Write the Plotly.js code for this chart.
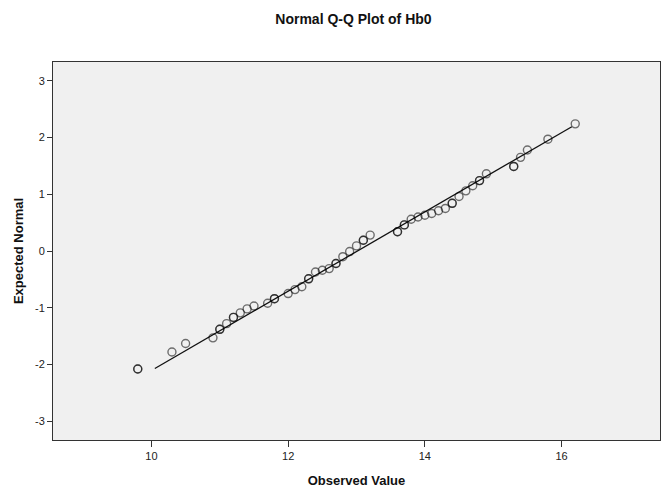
<!DOCTYPE html>
<html>
<head>
<meta charset="utf-8">
<script src="https://cdn.plot.ly/plotly-3.0.1.min.js"></script>
<style>html,body{margin:0;padding:0;background:#fff;}#chart{width:667px;height:490px;}</style>
</head>
<body>
<div id="chart"></div>
<script>
// Observed values (ties repeated) and expected normal values
const observed = [9.8, 9.8, 10.3, 10.5, 10.9, 11.0, 11.0, 11.1, 11.2, 11.2, 11.3, 11.4, 11.5, 11.7, 11.8, 11.8,
  12.0, 12.1, 12.2, 12.3, 12.3, 12.4, 12.5, 12.6, 12.7, 12.7, 12.8, 12.9, 13.0, 13.1, 13.1, 13.2,
  13.6, 13.6, 13.7, 13.7, 13.8, 13.9, 14.0, 14.1, 14.2, 14.3, 14.4, 14.4, 14.5, 14.6, 14.7, 14.8, 14.8,
  14.9, 15.3, 15.3, 15.4, 15.5, 15.8, 16.2];
const expected = [-2.08, -2.08, -1.78, -1.63, -1.53, -1.38, -1.38, -1.28, -1.17, -1.17, -1.09, -1.02, -0.97, -0.92, -0.84, -0.84,
  -0.75, -0.68, -0.63, -0.49, -0.49, -0.37, -0.34, -0.31, -0.22, -0.22, -0.10, -0.01, 0.09, 0.19, 0.19, 0.28,
  0.34, 0.34, 0.46, 0.46, 0.56, 0.60, 0.63, 0.66, 0.71, 0.75, 0.84, 0.84, 0.96, 1.06, 1.15, 1.24, 1.24,
  1.36, 1.49, 1.49, 1.65, 1.78, 1.97, 2.24];
// Reference line end points
const lineX = [10.05, 16.15];
const lineY = [-2.07, 2.19];
const xTicks = [10, 12, 14, 16];
const yTicks = [-3, -2, -1, 0, 1, 2, 3];

const font = "'Liberation Sans', Arial, sans-serif";
const traces = [
  {x: lineX, y: lineY, mode: 'lines', type: 'scatter', line: {color: '#111', width: 1.3}, hoverinfo: 'skip'},
  {x: observed, y: expected, mode: 'markers', type: 'scatter',
   marker: {symbol: 'circle-open', size: 8, color: 'rgba(0,0,0,0.55)', line: {width: 1.4, color: 'rgba(0,0,0,0.55)'}}}
];
const layout = {
  width: 667, height: 490,
  margin: {l: 53, r: 7, t: 62, b: 50},
  paper_bgcolor: '#ffffff', plot_bgcolor: '#f0f0f0',
  showlegend: false,
  font: {family: font, color: '#222', size: 11},
  title: {text: 'Normal Q-Q Plot of Hb0', font: {family: font, size: 14, color: '#111', weight: 'bold'}, x: 0.495, xref: 'paper', y: 0.962, yref: 'container', yanchor: 'middle'},
  xaxis: {range: [8.56, 17.44], tickvals: xTicks, ticktext: xTicks.map(String), ticks: 'outside', ticklen: 6, tickwidth: 1, tickcolor: '#333',
    showgrid: false, zeroline: false, showline: true, linecolor: '#333', linewidth: 1, mirror: true,
    tickfont: {size: 11, color: '#222'},
    title: {text: 'Observed Value', font: {family: font, size: 13, color: '#111', weight: 'bold'}, standoff: 14}},
  yaxis: {range: [-3.33, 3.33], tickvals: yTicks, ticktext: yTicks.map(String), ticks: 'outside', ticklen: 5, tickwidth: 1, tickcolor: '#333',
    showgrid: false, zeroline: false, showline: true, linecolor: '#333', linewidth: 1, mirror: true,
    tickfont: {size: 11, color: '#222'},
    title: {text: 'Expected Normal', font: {family: font, size: 13, color: '#111', weight: 'bold'}, standoff: 8}}
};
Plotly.newPlot('chart', traces, layout, {displayModeBar: false, staticPlot: true});
</script>
</body>
</html>
